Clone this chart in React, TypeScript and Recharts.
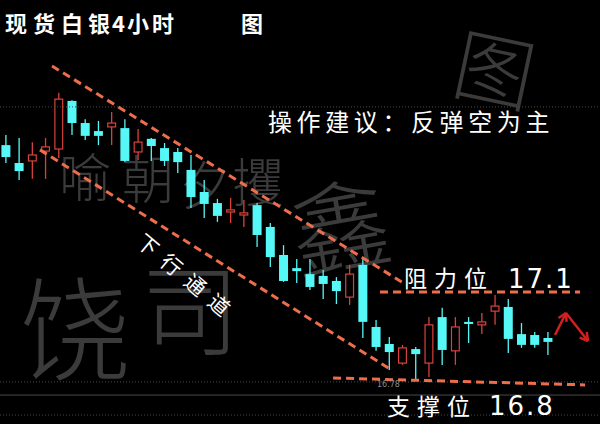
import React from 'react';
import { ComposedChart, Bar, XAxis, YAxis, ReferenceLine } from 'recharts';

const idx = Array.from({ length: 42 }, (_, i) => i);
const opens = [17.564, 17.504, 17.511, 17.544, 17.551, 17.712, 17.638, 17.611, 17.625, 17.621, 17.541, 17.585, 17.554, 17.541, 17.481, 17.407, 17.370, 17.340, 17.330, 17.363, 17.290, 17.196, 17.152, 17.132, 17.126, 17.109, 17.055, 17.163, 16.955, 16.898, 16.834, 16.881, 16.834, 16.988, 16.875, 16.972, 16.962, 17.008, 17.022, 16.931, 16.928, 16.918];
const highs = [17.598, 17.588, 17.574, 17.588, 17.739, 17.714, 17.651, 17.645, 17.675, 17.651, 17.618, 17.588, 17.571, 17.554, 17.531, 17.447, 17.384, 17.387, 17.380, 17.370, 17.303, 17.229, 17.183, 17.183, 17.146, 17.122, 17.163, 17.186, 16.978, 16.921, 16.895, 16.888, 16.988, 17.019, 16.988, 16.988, 17.002, 17.062, 17.049, 16.968, 16.938, 16.938];
const lows = [17.504, 17.447, 17.451, 17.451, 17.521, 17.598, 17.581, 17.564, 17.564, 17.507, 17.514, 17.511, 17.494, 17.471, 17.353, 17.320, 17.307, 17.303, 17.290, 17.223, 17.156, 17.106, 17.102, 17.079, 17.049, 17.032, 17.029, 16.918, 16.875, 16.811, 16.828, 16.780, 16.787, 16.828, 16.828, 16.901, 16.931, 16.962, 16.868, 16.885, 16.885, 16.861];
const closes = [17.524, 17.477, 17.531, 17.558, 17.718, 17.638, 17.595, 17.595, 17.638, 17.511, 17.574, 17.561, 17.511, 17.507, 17.390, 17.367, 17.327, 17.347, 17.337, 17.263, 17.189, 17.109, 17.142, 17.089, 17.099, 17.075, 17.132, 16.972, 16.888, 16.871, 16.885, 16.864, 16.962, 16.878, 16.955, 16.965, 16.972, 17.025, 16.915, 16.895, 16.895, 16.905];

const resistance = 17.072;
const gridLevels = [17.692, 16.771, 16.727, 16.66];
const upperChannel = [{ x: 3.48, y: 17.829 }, { x: 30.18, y: 17.099 }];
const lowerChannel = [{ x: 2.57, y: 17.548 }, { x: 29.05, y: 16.814 }];
const resistanceSeg = [{ x: 28.29, y: resistance }, { x: 43.42, y: resistance }];
const supportSeg = [{ x: 24.74, y: 16.784 }, { x: 43.8, y: 16.761 }];
const arrowPts = [{ x: 41.53, y: 16.928 }, { x: 42.36, y: 17.002 }, { x: 44.02, y: 16.908 }];
const arrowWings = [
  [{ x: 42.36, y: 17.002 }, { x: 41.79, y: 16.985 }],
  [{ x: 42.36, y: 17.002 }, { x: 42.4, y: 16.972 }],
  [{ x: 44.02, y: 16.908 }, { x: 43.93, y: 16.938 }],
  [{ x: 44.02, y: 16.908 }, { x: 43.39, y: 16.919 }],
];

const data = idx.map((i) => ({
  i,
  open: opens[i],
  high: highs[i],
  low: lows[i],
  close: closes[i],
  range: [lows[i], highs[i]],
}));

const CYAN = '#55f7f7';
const RED = '#d9423c';
const DASH = '#ee6e4c';
const CJK = '"Noto Sans CJK SC", "Noto Sans", sans-serif';

const Candle = (props: any) => {
  const { x, y, width, height, payload } = props;
  if (x == null || y == null) return null;
  const top0 = Math.min(y, y + height);
  const h = Math.abs(height);
  const { open, close, high, low } = payload;
  const up = close > open;
  const color = up ? RED : CYAN;
  const scale = h / (high - low);
  const yOf = (v: number) => top0 + (high - v) * scale;
  const cx = x + width / 2;
  const bt = yOf(Math.max(open, close));
  const bb = yOf(Math.min(open, close));
  const bh = Math.max(2, bb - bt);
  return (
    <g>
      <line x1={cx} x2={cx} y1={top0} y2={top0 + h} stroke={color} strokeWidth={1.3} />
      {up ? (
        <rect x={x + 0.6} y={bt} width={width - 1.2} height={bh} fill="#000" stroke={color} strokeWidth={1.2} />
      ) : (
        <rect x={x} y={bt} width={width} height={bh} fill={color} />
      )}
    </g>
  );
};

const Watermark = () => (
  <svg width={600} height={424} style={{ position: 'absolute', left: 0, top: 0 }}>
    <g fill="#3b3b3b" fontFamily={CJK} fontWeight={300}>
      <text x={85} y={197} fontSize={52} textAnchor="middle">喻</text>
      <text x={148} y={199} fontSize={52} textAnchor="middle">朝</text>
      <text x={205} y={205} fontSize={52} textAnchor="middle">夕</text>
      <text x={258} y={202} fontSize={52} textAnchor="middle">攫</text>
      <text x={340} y={265} fontSize={100} textAnchor="middle" transform="rotate(-10 340 225)">鑫</text>
      <text x={75} y={372} fontSize={112} textAnchor="middle">饶</text>
      <text x={190} y={348} fontSize={100} textAnchor="middle">司</text>
      <text x={495} y={100} fontSize={80} textAnchor="middle" transform="rotate(12 495 68)">图</text>
    </g>
  </svg>
);

const titleChars = [
  { t: '现', x: 5 }, { t: '货', x: 33 }, { t: '白', x: 61 }, { t: '银', x: 88 },
  { t: '4', x: 112 }, { t: '小', x: 127 }, { t: '时', x: 152 }, { t: '图', x: 241 },
];

const Labels = () => (
  <svg width={600} height={424} style={{ position: 'absolute', left: 0, top: 0, pointerEvents: 'none' }}>
    <g fill="#fff" fontFamily={CJK}>
      {titleChars.map((c) => (
        <text key={c.x} x={c.x} y={32} fontSize={22} fontWeight={600}>{c.t}</text>
      ))}
      <text x={268} y={131} fontSize={24} letterSpacing={4.6}>操作建议：反弹空为主</text>
      <text x={404} y={287} fontSize={23} letterSpacing={7}>阻力位</text>
      <text x={508} y={288} fontSize={26} letterSpacing={2} fontFamily="'DejaVu Sans', sans-serif">17.1</text>
      <text x={387} y={415} fontSize={23} letterSpacing={7}>支撑位</text>
      <text x={489} y={415} fontSize={26} letterSpacing={2} fontFamily="'DejaVu Sans', sans-serif">16.8</text>
      <text x={140} y={246} fontSize={21} letterSpacing={10} transform="rotate(40 140 238)">下行通道</text>
    </g>
    <text x={377} y={387} fontSize={8} fill="#8a8a8a" fontFamily="'DejaVu Sans', sans-serif">16.78</text>
  </svg>
);

export default function App() {
  return (
    <div style={{ position: 'absolute', left: 0, top: 0, width: 600, height: 424, background: '#000', overflow: 'hidden' }}>
      <Watermark />
      <div style={{ position: 'absolute', left: 0, top: 0 }}>
        <ComposedChart width={600} height={424} data={data} margin={{ top: 0, right: 0, bottom: 0, left: 0 }}>
          <XAxis dataKey="i" type="number" domain={[-0.454, 44.93]} hide allowDataOverflow />
          <YAxis type="number" domain={[16.63, 18.05]} hide allowDataOverflow />
          {gridLevels.map((g, k) => (
            <ReferenceLine key={'g' + k} y={g} stroke="#4a4a4a" strokeWidth={1} strokeDasharray={k === 2 ? undefined : '1 2'} />
          ))}
          <Bar dataKey="range" barSize={9} shape={Candle} isAnimationActive={false} />
          <ReferenceLine segment={upperChannel} stroke={DASH} strokeWidth={3} strokeDasharray="8 5" />
          <ReferenceLine segment={lowerChannel} stroke={DASH} strokeWidth={3} strokeDasharray="8 5" />
          <ReferenceLine segment={resistanceSeg} stroke={DASH} strokeWidth={3} strokeDasharray="8 5" />
          <ReferenceLine segment={supportSeg} stroke={DASH} strokeWidth={3} strokeDasharray="8 5" />
          <ReferenceLine segment={[arrowPts[0], arrowPts[1]]} stroke="#d21f1f" strokeWidth={2.5} />
          <ReferenceLine segment={[arrowPts[1], arrowPts[2]]} stroke="#d21f1f" strokeWidth={2.5} />
          {arrowWings.map((w, k) => (
            <ReferenceLine key={'w' + k} segment={w} stroke="#d21f1f" strokeWidth={2.5} />
          ))}
        </ComposedChart>
      </div>
      <Labels />
    </div>
  );
}
